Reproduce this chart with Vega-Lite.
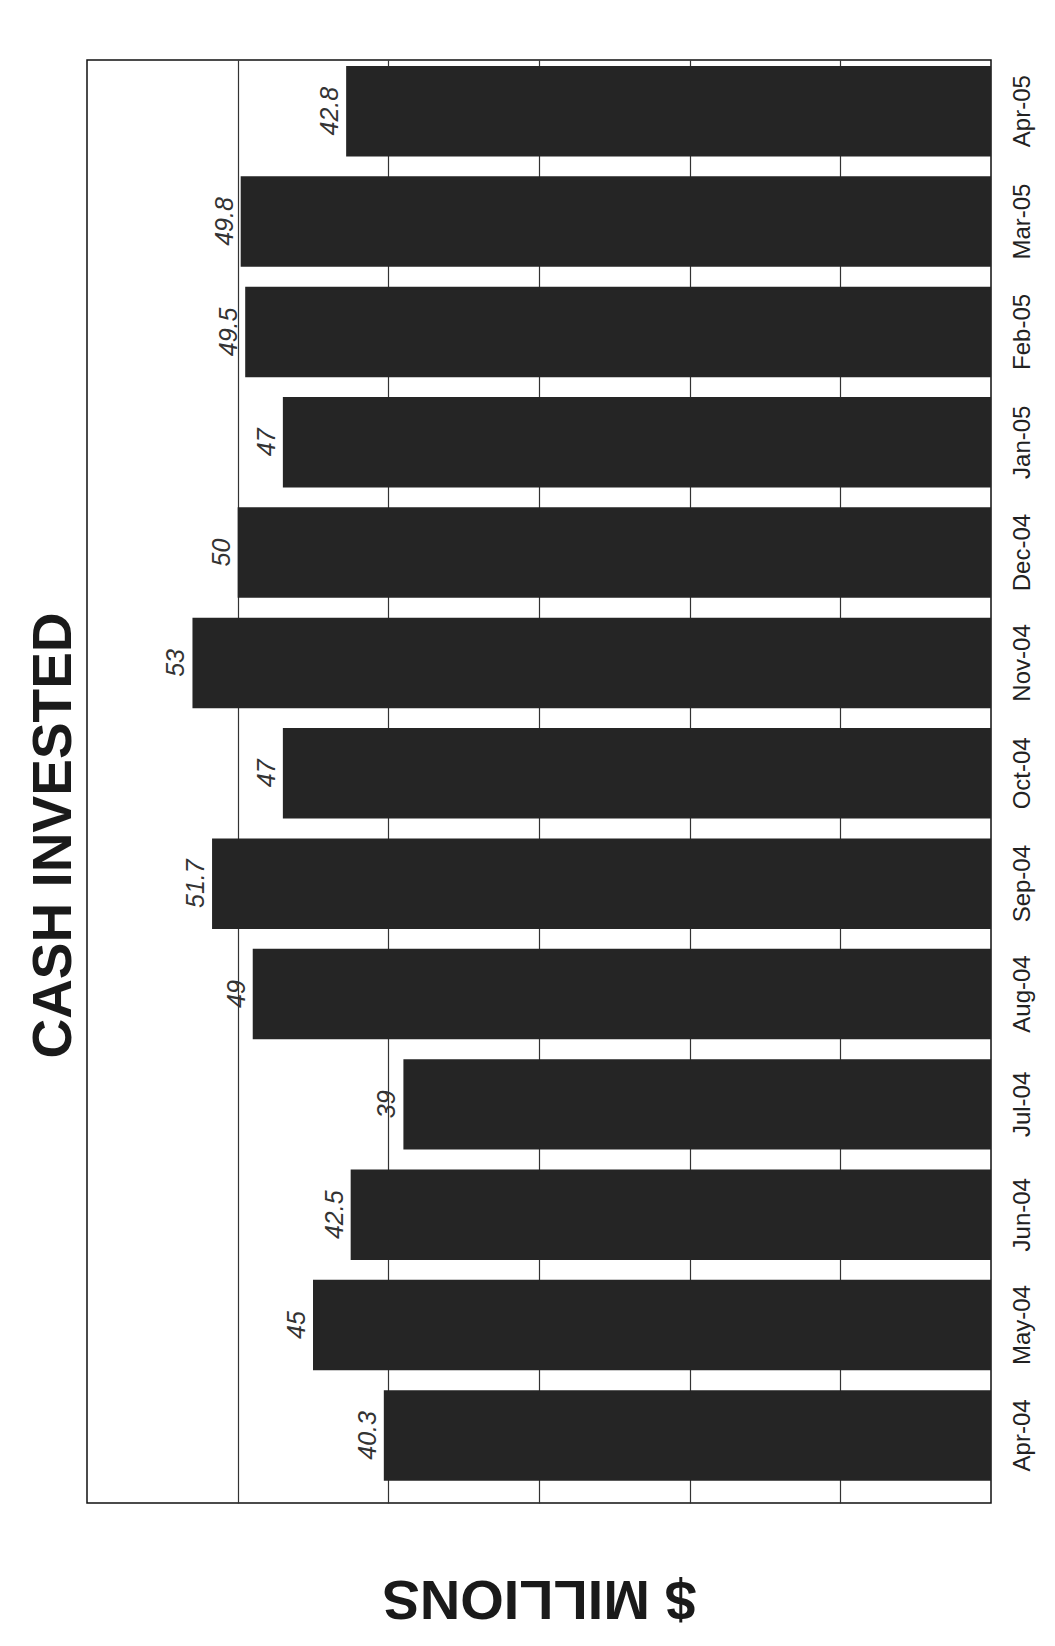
{
  "$schema": "https://vega.github.io/schema/vega-lite/v6.json",
  "autosize": "none",
  "width": 904,
  "height": 1443,
  "padding": {"left": 87, "top": 60, "right": 64, "bottom": 143},
  "background": "white",
  "config": {
    "font": "Liberation Sans",
    "view": {"stroke": "#111", "strokeWidth": 1.5}
  },
  "title": {
    "text": "CASH INVESTED",
    "orient": "left",
    "anchor": "middle",
    "fontSize": 55,
    "fontWeight": "bold",
    "font": "Liberation Sans",
    "color": "#1a1a1a",
    "offset": 4,
    "dx": -54
  },
  "data": {
    "values": [
      {"month": "Apr-04", "value": 40.3},
      {"month": "May-04", "value": 45},
      {"month": "Jun-04", "value": 42.5},
      {"month": "Jul-04", "value": 39},
      {"month": "Aug-04", "value": 49},
      {"month": "Sep-04", "value": 51.7},
      {"month": "Oct-04", "value": 47},
      {"month": "Nov-04", "value": 53},
      {"month": "Dec-04", "value": 50},
      {"month": "Jan-05", "value": 47},
      {"month": "Feb-05", "value": 49.5},
      {"month": "Mar-05", "value": 49.8},
      {"month": "Apr-05", "value": 42.8}
    ]
  },
  "encoding": {
    "y": {
      "field": "month",
      "type": "nominal",
      "sort": ["Apr-05","Mar-05","Feb-05","Jan-05","Dec-04","Nov-04","Oct-04","Sep-04","Aug-04","Jul-04","Jun-04","May-04","Apr-04"],
      "scale": {"paddingInner": 0.18, "paddingOuter": 0.128, "align": 0.21},
      "axis": {
        "orient": "right",
        "title": null,
        "labelAngle": -90,
        "labelAlign": "center",
        "labelBaseline": "top",
        "labelPadding": 19,
        "labelFontSize": 24,
        "labelColor": "#222",
        "ticks": false,
        "domain": false,
        "grid": false
      }
    },
    "x": {
      "field": "value",
      "type": "quantitative",
      "scale": {"domain": [0, 60], "reverse": true, "nice": false},
      "axis": {
        "orient": "bottom",
        "title": "$ MILLIONS",
        "titleAngle": 180,
        "titleFontSize": 56,
        "titleFontWeight": "bold",
        "titleColor": "#1a1a1a",
        "titleAlign": "center",
        "titleBaseline": "middle",
        "titleX": 452,
        "titleY": 94,
        "labels": false,
        "ticks": false,
        "domain": false,
        "grid": true,
        "gridColor": "#333",
        "gridWidth": 1.2,
        "values": [10, 20, 30, 40, 50]
      }
    }
  },
  "layer": [
    {
      "mark": {"type": "bar", "color": "#252525"}
    },
    {
      "mark": {
        "type": "text",
        "angle": 270,
        "align": "center",
        "baseline": "alphabetic",
        "dy": -8,
        "fontSize": 25,
        "fontStyle": "italic",
        "color": "#333"
      },
      "encoding": {
        "text": {"field": "value", "type": "quantitative"}
      }
    }
  ]
}
